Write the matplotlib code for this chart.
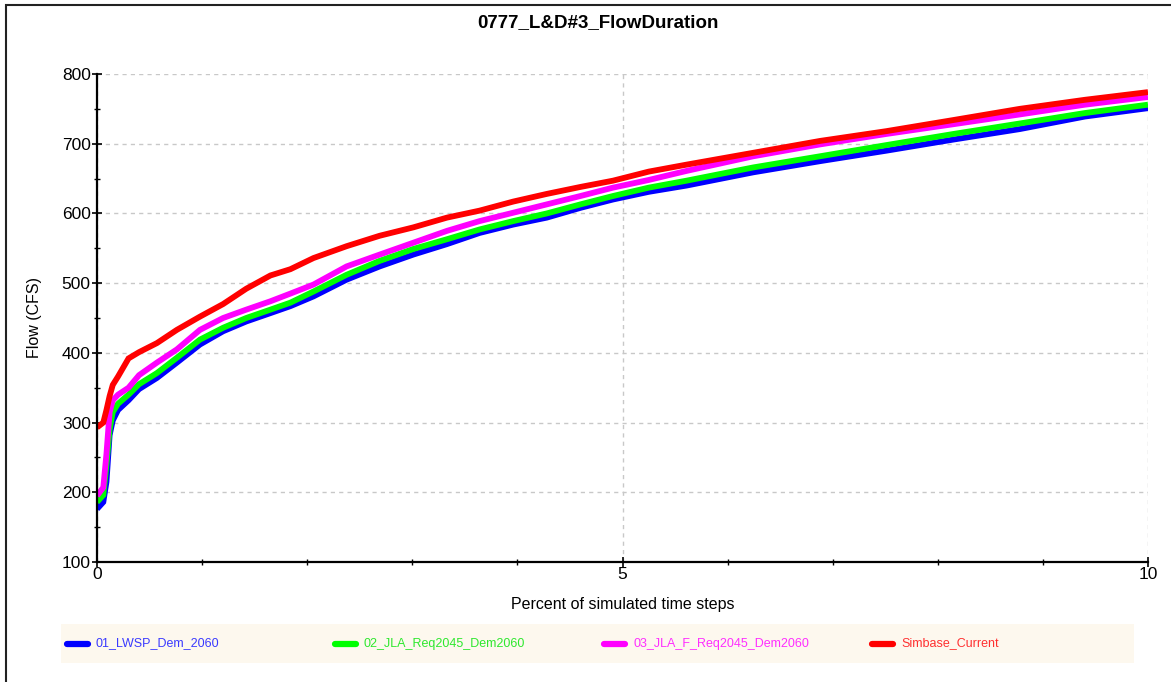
import matplotlib
matplotlib.use("Agg")
import matplotlib.pyplot as plt
from matplotlib.lines import Line2D
from matplotlib.patches import Rectangle
from matplotlib.ticker import MultipleLocator

plt.rcParams['font.family'] = ['Liberation Sans', 'DejaVu Sans']

title = "0777_L&D#3_FlowDuration"
series_names = ["01_LWSP_Dem_2060", "02_JLA_Req2045_Dem2060",
                "03_JLA_F_Req2045_Dem2060", "Simbase_Current"]
series_colors = ["#0000ff", "#00ff00", "#ff00ff", "#ff0000"]
label_colors = ["#3a3aff", "#2ee82e", "#ff2eff", "#ff3030"]

percent = [0, 0.06, 0.09, 0.12, 0.15, 0.2, 0.3, 0.4, 0.57, 0.76, 0.98, 1.2,
           1.42, 1.65, 1.84, 2.06, 2.375, 2.69, 3.01, 3.33, 3.64, 3.96, 4.28,
           4.6, 4.91, 5.25, 5.61, 6.245, 6.88, 7.51, 8.15, 8.78, 9.4, 10]

flow_lwsp = [176, 186, 215, 282, 303, 318, 332, 348, 364, 386, 412, 431,
             445, 457, 467, 481, 505, 524, 541, 556, 572, 584, 594,
             608, 620, 631, 640, 659, 675, 690, 706, 721, 739, 751]
flow_jla = [186, 196, 240, 290, 315, 327, 340, 355, 371, 393, 419, 436,
            450, 462, 472, 488, 512, 532, 549, 563, 577, 589, 600,
            613, 625, 637, 647, 666, 682, 698, 714, 729, 744, 756]
flow_jla_f = [195, 207, 255, 315, 332, 340, 350, 368, 386, 405, 433, 450,
              462, 474, 485, 498, 524, 541, 558, 575, 589, 601, 613,
              625, 637, 648, 661, 682, 699, 714, 728, 742, 756, 767]
flow_simbase = [293, 300, 318, 338, 354, 366, 392, 401, 414, 433, 452, 470,
                492, 511, 520, 536, 553, 568, 580, 594, 604, 617, 628,
                638, 647, 660, 670, 687, 704, 718, 734, 750, 763, 774]

flows = [flow_lwsp, flow_jla, flow_jla_f, flow_simbase]

W, H = 1171, 682
fig = plt.figure(figsize=(W / 100, H / 100), dpi=100)

# outer frame
fig.patches.append(Rectangle((6 / W, -0.05), 1.2, (H - 5) / H + 0.05,
                             transform=fig.transFigure, fill=False,
                             edgecolor="#222222", linewidth=1.5))

ax = fig.add_axes([97 / W, 1 - 562 / H, (1148 - 97) / W, (562 - 74) / H])

for y, c in zip(flows, series_colors):
    ax.plot(percent, y, color=c, linewidth=4.2, solid_capstyle="butt",
            solid_joinstyle="miter")

ax.set_xlim(0, 10)
ax.set_ylim(100, 800)
ax.xaxis.set_major_locator(MultipleLocator(5))
ax.xaxis.set_minor_locator(MultipleLocator(1))
ax.yaxis.set_major_locator(MultipleLocator(100))
ax.yaxis.set_minor_locator(MultipleLocator(50))

ax.grid(True, which="major", color="#c8c8c8", linestyle=(0, (3, 3)),
        linewidth=1.0)
ax.set_axisbelow(True)

for s in ("top", "right"):
    ax.spines[s].set_visible(False)
for s in ("left", "bottom"):
    ax.spines[s].set_linewidth(1.6)
    ax.spines[s].set_color("black")

ax.tick_params(which="major", direction="inout", length=7, width=1.2,
               labelsize=12.5, pad=1)
ax.tick_params(which="minor", direction="inout", length=5, width=1.0)
ax.tick_params(axis="x", which="major", pad=0)

ax.set_xlabel("Percent of simulated time steps", fontsize=11.5, labelpad=11)
ax.set_ylabel("Flow (CFS)", fontsize=11.5, labelpad=14)

fig.text(598 / W, 1 - 23 / H, title, ha="center", va="center",
         fontsize=13.5, fontweight="bold")

# legend band
lax = fig.add_axes([61 / W, 1 - 663 / H, (1134 - 61) / W, (663 - 624) / H])
lax.set_xlim(61, 1134)
lax.set_ylim(0, 1)
lax.set_facecolor("#fdf8ee")
for s in lax.spines.values():
    s.set_visible(False)
lax.set_xticks([])
lax.set_yticks([])
starts = [67, 335, 604, 872]
for x0, name, c, tc in zip(starts, series_names, series_colors, label_colors):
    lax.add_line(Line2D([x0, x0 + 21], [0.5, 0.5], color=c, linewidth=4.5,
                        solid_capstyle="round"))
    lax.text(x0 + 29, 0.5, name, color=tc, fontsize=9.0, va="center",
             ha="left")

fig.savefig("out.png", dpi=100)
